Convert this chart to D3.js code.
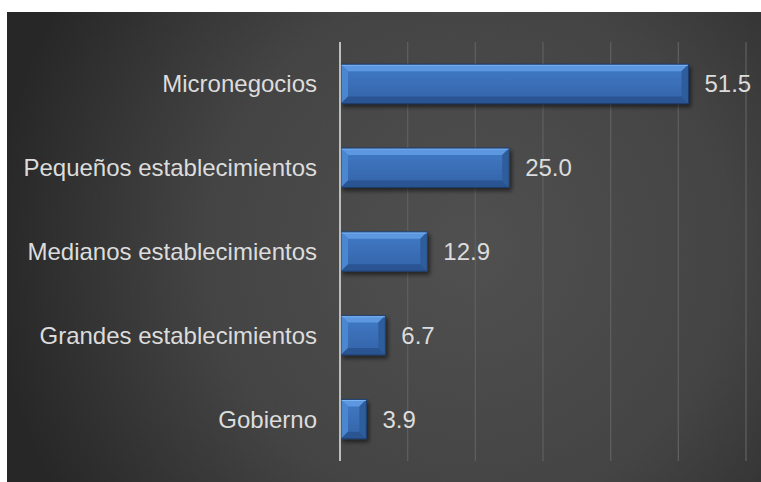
<!DOCTYPE html>
<html><head><meta charset="utf-8">
<script src="https://cdn.jsdelivr.net/npm/d3@7"></script>
<style>html,body{margin:0;padding:0;background:#fff;}svg{display:block;}</style>
</head><body>
<script>
const categories = ["Micronegocios","Pequeños establecimientos","Medianos establecimientos","Grandes establecimientos","Gobierno"];
const values = [51.5, 25.0, 12.9, 6.7, 3.9];
const xTicks = [0,10,20,30,40,50,60];

const W = 761, H = 482;
const svg = d3.select("body").append("svg").attr("width", W).attr("height", H);
const defs = svg.append("defs");

const bg = defs.append("radialGradient").attr("id","bg")
  .attr("gradientUnits","userSpaceOnUse").attr("cx",470).attr("cy",250).attr("r",480);
bg.append("stop").attr("offset","0").attr("stop-color","#505050");
bg.append("stop").attr("offset","0.55").attr("stop-color","#444444");
bg.append("stop").attr("offset","1").attr("stop-color","#272727");

const shadow = defs.append("filter").attr("id","sh").attr("x","-10%").attr("y","-30%").attr("width","130%").attr("height","180%");
shadow.append("feGaussianBlur").attr("in","SourceAlpha").attr("stdDeviation",2);
shadow.append("feOffset").attr("dx",2).attr("dy",3).attr("result","b");
shadow.append("feComponentTransfer").append("feFuncA").attr("type","linear").attr("slope",0.55);
const fm = shadow.append("feMerge"); fm.append("feMergeNode"); fm.append("feMergeNode").attr("in","SourceGraphic");

const mainG = defs.append("linearGradient").attr("id","bm").attr("x1",0).attr("y1",0).attr("x2",0).attr("y2",1);
mainG.append("stop").attr("offset","0").attr("stop-color","#417bc6");
mainG.append("stop").attr("offset","1").attr("stop-color","#3363a8");

svg.append("rect").attr("x",7).attr("y",12).attr("width",W-7).attr("height",H-12).attr("fill","url(#bg)");

const x = d3.scaleLinear().domain([0,60]).range([340,746]);
const y = d3.scaleBand().domain(categories).range([42,461]).paddingInner(0.53).paddingOuter(0.265);

// gridlines
svg.append("g").selectAll("line").data(xTicks.slice(1)).join("line")
  .attr("x1",d=>x(d)).attr("x2",d=>x(d)).attr("y1",42).attr("y2",461)
  .attr("stroke","#5e5e5e").attr("stroke-width",1.3);

// bars
const bars = svg.append("g").selectAll("g").data(categories).join("g").attr("filter","url(#sh)");
bars.each(function(c,i){
  const g = d3.select(this);
  const x0 = x(0)+1, x1 = x(values[i]), y0 = y(c), y1 = y(c)+y.bandwidth();
  const b = Math.min(7, (x1-x0)/2.2);
  g.append("rect").attr("x",x0).attr("y",y0).attr("width",x1-x0).attr("height",y1-y0).attr("fill","url(#bm)");
  const poly = (pts, fill) => g.append("polygon").attr("points", pts.map(p=>p.join(",")).join(" ")).attr("fill",fill);
  poly([[x0,y0],[x1,y0],[x1-b,y0+b],[x0+b,y0+b]], "#5c97df");
  poly([[x0,y0],[x0+b,y0+b],[x0+b,y1-b],[x0,y1]], "#4c86d0");
  poly([[x1,y0],[x1,y1],[x1-b,y1-b],[x1-b,y0+b]], "#2f5d9c");
  poly([[x0,y1],[x0+b,y1-b],[x1-b,y1-b],[x1,y1]], "#2a5592");
  g.append("line").attr("x1",x0).attr("x2",x1).attr("y1",y0+1).attr("y2",y0+1).attr("stroke","#7bb4f3").attr("stroke-width",1.2);
  g.append("rect").attr("x",x0).attr("y",y0).attr("width",x1-x0).attr("height",y1-y0)
    .attr("fill","none").attr("stroke","#1f3e6c").attr("stroke-width",1);
});

// axis line
svg.append("line").attr("x1",x(0)).attr("x2",x(0)).attr("y1",42).attr("y2",461)
  .attr("stroke","#bdbdbd").attr("stroke-width",2);

const font = "'Liberation Sans', Arial, sans-serif";
// category labels
svg.append("g").selectAll("text").data(categories).join("text")
  .attr("x",317).attr("y",d=>y(d)+y.bandwidth()/2).attr("dy","0.35em")
  .attr("text-anchor","end").attr("font-family",font).attr("font-size",24).attr("fill","#dcdcdc")
  .text(d=>d);

// value labels
svg.append("g").selectAll("text").data(categories).join("text")
  .attr("x",(d,i)=>x(values[i])+16).attr("y",d=>y(d)+y.bandwidth()/2).attr("dy","0.35em")
  .attr("font-family",font).attr("font-size",24).attr("fill","#dcdcdc")
  .text((d,i)=>d3.format(".1f")(values[i]));
</script>
</body></html>
